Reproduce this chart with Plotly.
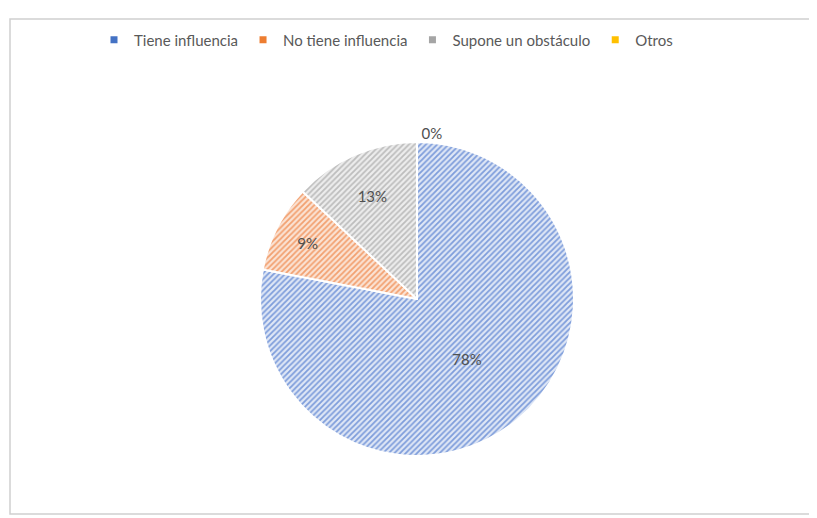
import plotly.graph_objects as go

labels = ["Tiene influencia", "No tiene influencia", "Supone un obstáculo", "Otros"]
values = [78, 9, 13, 0]
colors = ["#4472C4", "#ED7D31", "#A5A5A5", "#FFC000"]
fg_colors = ["#7e9ddb", "#f2a070", "#bdbdbd", "#ffd24d"]
bg_colors = ["#dfe7f6", "#fbe3d4", "#ededed", "#fff2cc"]

W, H = 817, 518
OFF = 8  # default page body margin
cx, cy, R = 417 - OFF, 299 - OFF, 157
FONT = "Lato, Open Sans, sans-serif"

fig = go.Figure()
fig.add_trace(go.Pie(
    labels=labels,
    values=values,
    sort=False,
    direction="clockwise",
    rotation=0,
    texttemplate="%{percent:.0%}",
    textposition=["inside", "inside", "inside", "outside"],
    insidetextorientation="horizontal",
    textfont=dict(family=FONT, size=15, color="#505050"),
    marker=dict(
        colors=colors,
        line=dict(color="white", width=2),
        pattern=dict(shape="/", fgcolor=fg_colors, bgcolor=bg_colors, size=4, solidity=0.45),
    ),
    domain=dict(x=[(cx - R) / W, (cx + R) / W], y=[1 - (cy + R) / H, 1 - (cy - R) / H]),
    showlegend=False,
    hoverinfo="label+percent",
))

# legend entries with solid square keys
for lab, col in zip(labels, colors):
    fig.add_trace(go.Scatter(x=[None], y=[None], mode="markers", name=lab,
                             marker=dict(symbol="square", size=7, color=col),
                             showlegend=True, hoverinfo="skip"))

fig.update_layout(
    width=W, height=H,
    margin=dict(l=0, r=0, t=0, b=0),
    paper_bgcolor="white",
    plot_bgcolor="white",
    font=dict(family=FONT, size=15, color="#595959"),
    xaxis=dict(visible=False),
    yaxis=dict(visible=False),
    legend=dict(orientation="h", x=(386 - OFF) / W, xanchor="center", y=1 - (40 - OFF) / H,
                yanchor="middle", font=dict(family=FONT, size=15, color="#595959"),
                itemwidth=30, tracegroupgap=0, bgcolor="rgba(0,0,0,0)"),
    shapes=[dict(type="rect", xref="paper", yref="paper",
                 x0=(10 - OFF) / W, x1=(812 - OFF) / W, y0=1 - (514 - OFF) / H, y1=1 - (19 - OFF) / H,
                 line=dict(color="#d0d0d0", width=1.5), fillcolor="rgba(0,0,0,0)", layer="below")],
)

fig.write_html("out.html")
